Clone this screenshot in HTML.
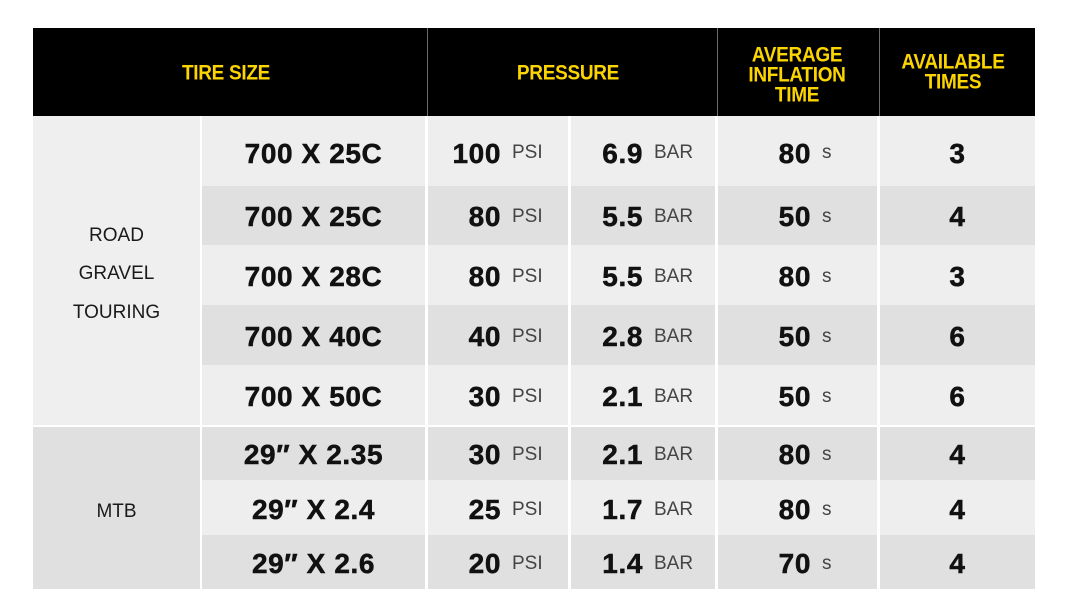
<!DOCTYPE html>
<html>
<head>
<meta charset="utf-8">
<style>
  html,body{margin:0;padding:0;background:#fff;}
  body{width:1080px;height:614px;position:relative;overflow:hidden;font-family:"Liberation Sans",Arial,sans-serif;}
  .hdr{position:absolute;left:33px;top:28px;width:1002px;height:88px;background:#000;}
  .vl{position:absolute;top:28px;height:88px;width:1px;background:#6a6a6a;}
  .ht{position:absolute;color:#fcd500;font-weight:bold;font-size:19px;letter-spacing:-0.3px;text-align:center;line-height:18.2px;transform:scaleY(1.1);}
  .cell{position:absolute;}
  .L{background:#eeeeee;}
  .D{background:#e0e0e0;}
  .big{position:absolute;font-weight:bold;font-size:28px;color:#111;line-height:28px;white-space:nowrap;letter-spacing:0.6px;-webkit-text-stroke:0.5px #111;}
  .unit{position:absolute;font-size:19px;color:#444;line-height:20px;white-space:nowrap;}
  .cat{position:absolute;font-size:19px;color:#1a1a1a;text-align:center;width:167px;left:33px;line-height:38.5px;}
</style>
</head>
<body>
<div class="hdr"></div>
<div class="vl" style="left:427px"></div>
<div class="vl" style="left:717px"></div>
<div class="vl" style="left:879px"></div>

<div class="ht" style="left:126px;width:200px;top:65px;">TIRE SIZE</div>
<div class="ht" style="left:468px;width:200px;top:65px;">PRESSURE</div>
<div class="ht" style="left:717px;width:160px;top:49px;">AVERAGE<br>INFLATION<br>TIME</div>
<div class="ht" style="left:875px;width:156px;top:54.5px;">AVAILABLE<br>TIMES</div>

<!-- category cells -->
<div class="cell" style="left:33px;top:116px;width:167px;height:309px;background:#efefef;"></div>
<div class="cell D" style="left:33px;top:427px;width:167px;height:162px;"></div>
<div class="cat" style="top:216.5px;">ROAD<br>GRAVEL<br>TOURING</div>
<div class="cat" style="top:492.5px;">MTB</div>

<!-- r1 -->
<div class="cell L" style="left:202px;top:116px;width:223px;height:70px;"></div>
<div class="cell L" style="left:428px;top:116px;width:140px;height:70px;"></div>
<div class="cell L" style="left:571px;top:116px;width:144px;height:70px;"></div>
<div class="cell L" style="left:718px;top:116px;width:159px;height:70px;"></div>
<div class="cell L" style="left:880px;top:116px;width:155px;height:70px;"></div>
<!-- r2 -->
<div class="cell D" style="left:202px;top:186px;width:223px;height:59px;"></div>
<div class="cell D" style="left:428px;top:186px;width:140px;height:59px;"></div>
<div class="cell D" style="left:571px;top:186px;width:144px;height:59px;"></div>
<div class="cell D" style="left:718px;top:186px;width:159px;height:59px;"></div>
<div class="cell D" style="left:880px;top:186px;width:155px;height:59px;"></div>
<!-- r3 -->
<div class="cell L" style="left:202px;top:245px;width:223px;height:60px;"></div>
<div class="cell L" style="left:428px;top:245px;width:140px;height:60px;"></div>
<div class="cell L" style="left:571px;top:245px;width:144px;height:60px;"></div>
<div class="cell L" style="left:718px;top:245px;width:159px;height:60px;"></div>
<div class="cell L" style="left:880px;top:245px;width:155px;height:60px;"></div>
<!-- r4 -->
<div class="cell D" style="left:202px;top:305px;width:223px;height:60px;"></div>
<div class="cell D" style="left:428px;top:305px;width:140px;height:60px;"></div>
<div class="cell D" style="left:571px;top:305px;width:144px;height:60px;"></div>
<div class="cell D" style="left:718px;top:305px;width:159px;height:60px;"></div>
<div class="cell D" style="left:880px;top:305px;width:155px;height:60px;"></div>
<!-- r5 -->
<div class="cell L" style="left:202px;top:365px;width:223px;height:60px;"></div>
<div class="cell L" style="left:428px;top:365px;width:140px;height:60px;"></div>
<div class="cell L" style="left:571px;top:365px;width:144px;height:60px;"></div>
<div class="cell L" style="left:718px;top:365px;width:159px;height:60px;"></div>
<div class="cell L" style="left:880px;top:365px;width:155px;height:60px;"></div>
<!-- r6 -->
<div class="cell D" style="left:202px;top:427px;width:223px;height:53px;"></div>
<div class="cell D" style="left:428px;top:427px;width:140px;height:53px;"></div>
<div class="cell D" style="left:571px;top:427px;width:144px;height:53px;"></div>
<div class="cell D" style="left:718px;top:427px;width:159px;height:53px;"></div>
<div class="cell D" style="left:880px;top:427px;width:155px;height:53px;"></div>
<!-- r7 -->
<div class="cell L" style="left:202px;top:480px;width:223px;height:55px;"></div>
<div class="cell L" style="left:428px;top:480px;width:140px;height:55px;"></div>
<div class="cell L" style="left:571px;top:480px;width:144px;height:55px;"></div>
<div class="cell L" style="left:718px;top:480px;width:159px;height:55px;"></div>
<div class="cell L" style="left:880px;top:480px;width:155px;height:55px;"></div>
<!-- r8 -->
<div class="cell D" style="left:202px;top:535px;width:223px;height:54px;"></div>
<div class="cell D" style="left:428px;top:535px;width:140px;height:54px;"></div>
<div class="cell D" style="left:571px;top:535px;width:144px;height:54px;"></div>
<div class="cell D" style="left:718px;top:535px;width:159px;height:54px;"></div>
<div class="cell D" style="left:880px;top:535px;width:155px;height:54px;"></div>

<!-- Row 1 -->
<div class="big" style="left:202px;width:223px;text-align:center;top:140px;">700 X 25C</div>
<div class="big" style="left:400px;width:101px;text-align:right;top:140px;">100</div>
<div class="unit" style="left:512px;top:143px;">PSI</div>
<div class="big" style="left:543px;width:100px;text-align:right;top:140px;">6.9</div>
<div class="unit" style="left:654px;top:143px;">BAR</div>
<div class="big" style="left:711px;width:100px;text-align:right;top:140px;">80</div>
<div class="unit" style="left:822px;top:143px;">s</div>
<div class="big" style="left:880px;width:155px;text-align:center;top:140px;">3</div>

<!-- Row 2 -->
<div class="big" style="left:202px;width:223px;text-align:center;top:203px;">700 X 25C</div>
<div class="big" style="left:400px;width:101px;text-align:right;top:203px;">80</div>
<div class="unit" style="left:512px;top:207px;">PSI</div>
<div class="big" style="left:543px;width:100px;text-align:right;top:203px;">5.5</div>
<div class="unit" style="left:654px;top:207px;">BAR</div>
<div class="big" style="left:711px;width:100px;text-align:right;top:203px;">50</div>
<div class="unit" style="left:822px;top:207px;">s</div>
<div class="big" style="left:880px;width:155px;text-align:center;top:203px;">4</div>

<!-- Row 3 -->
<div class="big" style="left:202px;width:223px;text-align:center;top:263px;">700 X 28C</div>
<div class="big" style="left:400px;width:101px;text-align:right;top:263px;">80</div>
<div class="unit" style="left:512px;top:267px;">PSI</div>
<div class="big" style="left:543px;width:100px;text-align:right;top:263px;">5.5</div>
<div class="unit" style="left:654px;top:267px;">BAR</div>
<div class="big" style="left:711px;width:100px;text-align:right;top:263px;">80</div>
<div class="unit" style="left:822px;top:267px;">s</div>
<div class="big" style="left:880px;width:155px;text-align:center;top:263px;">3</div>

<!-- Row 4 -->
<div class="big" style="left:202px;width:223px;text-align:center;top:323px;">700 X 40C</div>
<div class="big" style="left:400px;width:101px;text-align:right;top:323px;">40</div>
<div class="unit" style="left:512px;top:327px;">PSI</div>
<div class="big" style="left:543px;width:100px;text-align:right;top:323px;">2.8</div>
<div class="unit" style="left:654px;top:327px;">BAR</div>
<div class="big" style="left:711px;width:100px;text-align:right;top:323px;">50</div>
<div class="unit" style="left:822px;top:327px;">s</div>
<div class="big" style="left:880px;width:155px;text-align:center;top:323px;">6</div>

<!-- Row 5 -->
<div class="big" style="left:202px;width:223px;text-align:center;top:383px;">700 X 50C</div>
<div class="big" style="left:400px;width:101px;text-align:right;top:383px;">30</div>
<div class="unit" style="left:512px;top:387px;">PSI</div>
<div class="big" style="left:543px;width:100px;text-align:right;top:383px;">2.1</div>
<div class="unit" style="left:654px;top:387px;">BAR</div>
<div class="big" style="left:711px;width:100px;text-align:right;top:383px;">50</div>
<div class="unit" style="left:822px;top:387px;">s</div>
<div class="big" style="left:880px;width:155px;text-align:center;top:383px;">6</div>

<!-- Row 6 -->
<div class="big" style="left:202px;width:223px;text-align:center;top:441px;">29″ X 2.35</div>
<div class="big" style="left:400px;width:101px;text-align:right;top:441px;">30</div>
<div class="unit" style="left:512px;top:445px;">PSI</div>
<div class="big" style="left:543px;width:100px;text-align:right;top:441px;">2.1</div>
<div class="unit" style="left:654px;top:445px;">BAR</div>
<div class="big" style="left:711px;width:100px;text-align:right;top:441px;">80</div>
<div class="unit" style="left:822px;top:445px;">s</div>
<div class="big" style="left:880px;width:155px;text-align:center;top:441px;">4</div>

<!-- Row 7 -->
<div class="big" style="left:202px;width:223px;text-align:center;top:496px;">29″ X 2.4</div>
<div class="big" style="left:400px;width:101px;text-align:right;top:496px;">25</div>
<div class="unit" style="left:512px;top:500px;">PSI</div>
<div class="big" style="left:543px;width:100px;text-align:right;top:496px;">1.7</div>
<div class="unit" style="left:654px;top:500px;">BAR</div>
<div class="big" style="left:711px;width:100px;text-align:right;top:496px;">80</div>
<div class="unit" style="left:822px;top:500px;">s</div>
<div class="big" style="left:880px;width:155px;text-align:center;top:496px;">4</div>

<!-- Row 8 -->
<div class="big" style="left:202px;width:223px;text-align:center;top:550px;">29″ X 2.6</div>
<div class="big" style="left:400px;width:101px;text-align:right;top:550px;">20</div>
<div class="unit" style="left:512px;top:554px;">PSI</div>
<div class="big" style="left:543px;width:100px;text-align:right;top:550px;">1.4</div>
<div class="unit" style="left:654px;top:554px;">BAR</div>
<div class="big" style="left:711px;width:100px;text-align:right;top:550px;">70</div>
<div class="unit" style="left:822px;top:554px;">s</div>
<div class="big" style="left:880px;width:155px;text-align:center;top:550px;">4</div>

</body>
</html>
